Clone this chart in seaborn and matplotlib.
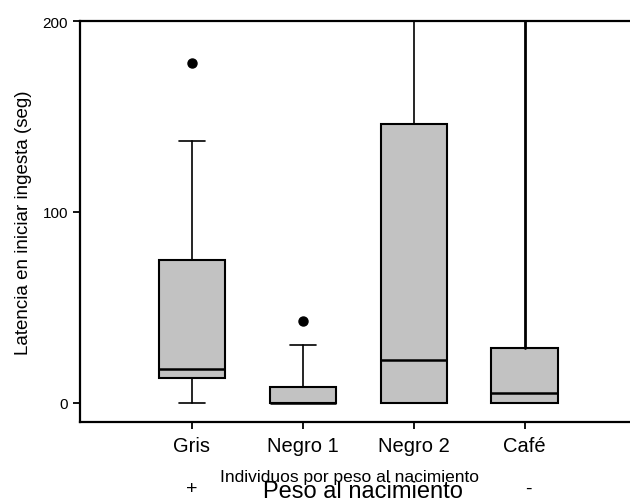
import matplotlib
matplotlib.use("Agg")
import matplotlib.pyplot as plt
import seaborn as sns

sns.set_style("ticks")
plt.rcParams["font.family"] = ["Liberation Sans", "DejaVu Sans"]
plt.rcParams["text.color"] = "black"
plt.rcParams["axes.labelcolor"] = "black"
plt.rcParams["xtick.color"] = "black"
plt.rcParams["ytick.color"] = "black"

# Five-number summaries per individual (latency in seconds)
categories = ["Gris", "Negro 1", "Negro 2", "Café"]
whisker_low = [0, 0, 0, 0]
q1 = [13, 0, 0, 0]
median = [18, 0, 22.5, 5]
q3 = [75, 8.4, 146, 28.8]
whisker_high = [137, 30.4, 250, 250]
outliers = [[178], [43], [], []]

fig = plt.figure(figsize=(6.30, 5.02), dpi=100)
ax = fig.add_axes([80 / 630, 1 - 423 / 502, 1 - 80 / 630, (423 - 22) / 502])

stats = []
for i, name in enumerate(categories):
    stats.append(dict(label=name, whislo=whisker_low[i], q1=q1[i], med=median[i],
                      q3=q3[i], whishi=whisker_high[i], fliers=outliers[i]))

positions = list(range(len(categories)))
ax.bxp(stats, positions=positions, widths=0.6, capwidths=0.24, patch_artist=True,
       showfliers=True,
       boxprops=dict(facecolor="#c2c2c2", edgecolor="black", linewidth=1.5),
       medianprops=dict(color="black", linewidth=1.8),
       whiskerprops=dict(color="black", linewidth=1.2),
       capprops=dict(color="black", linewidth=1.2),
       flierprops=dict(marker="o", markerfacecolor="black", markeredgecolor="black",
                       markersize=6.5))

# heavier whisker on the last group
for line in ax.lines:
    xd = line.get_xdata()
    if len(xd) == 2 and xd[0] == xd[1] == 3:
        line.set_linewidth(2.0)

ax.set_xlim(-1.01, 3.95)
ax.set_ylim(-10, 200)
ax.set_yticks([0, 100, 200])
ax.set_yticklabels(["0", "100", "200"], fontsize=11)
ax.set_xticks(positions)
ax.set_xticklabels(categories, fontsize=14.5)
ax.tick_params(axis="both", length=5, width=1.3, direction="out", colors="black")
ax.tick_params(axis="x", pad=5)

for side in ["left", "top", "bottom"]:
    ax.spines[side].set_linewidth(1.6)
    ax.spines[side].set_color("black")
ax.spines["right"].set_visible(False)

ax.set_ylabel("Latencia en iniciar ingesta (seg)", fontsize=13.5, labelpad=8,
              color="black")
ax.set_xlabel("")

fig.text(349 / 630, 1 - 478 / 502, "Individuos por peso al nacimiento",
         ha="center", va="center", fontsize=12.5)
fig.text(363 / 630, 1 - 492 / 502, "Peso al nacimiento",
         ha="center", va="center", fontsize=17)
fig.text(192 / 630, 1 - 490 / 502, "+", ha="center", va="center", fontsize=14)
fig.text(528 / 630, 1 - 489 / 502, "-", ha="center", va="center", fontsize=14)

fig.savefig("out.png", dpi=100)
